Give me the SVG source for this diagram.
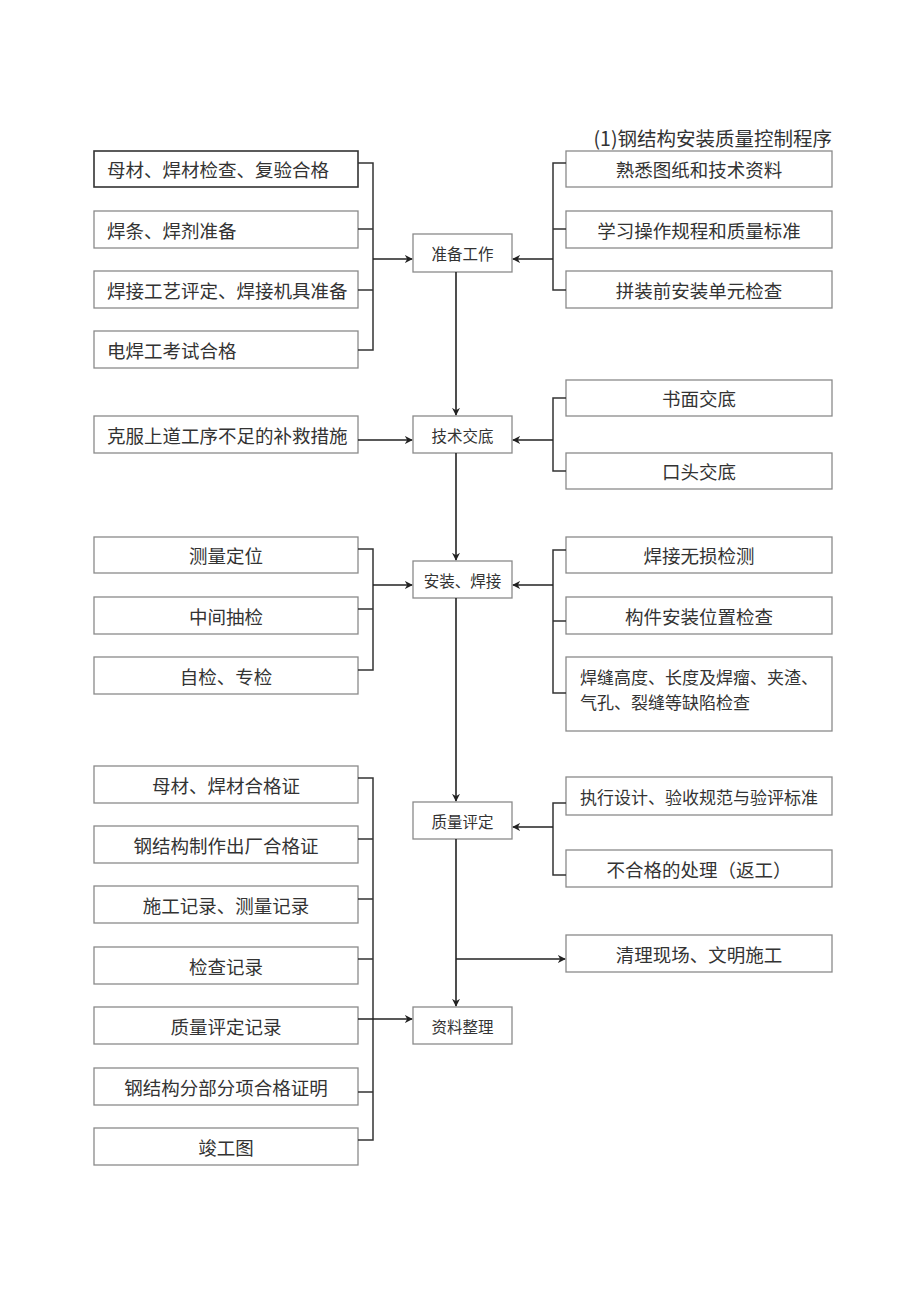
<svg xmlns="http://www.w3.org/2000/svg" width="920" height="1301" viewBox="0 0 920 1301">
<style>
.b{fill:#fff;stroke:#8a8a8a;stroke-width:1.3}
.b1{fill:#fff;stroke:#333;stroke-width:1.6}
.t{font-family:"Noto Sans CJK SC","Noto Sans CJK TC",sans-serif;font-size:18.5px;fill:#333;dominant-baseline:central}
.c{text-anchor:middle}
.m{font-size:15.5px}
.s{font-size:17px}
.ln{fill:none;stroke:#333;stroke-width:1.5}
.ar{fill:none;stroke:#222;stroke-width:1.6;marker-end:url(#ah)}
</style>
<defs>
<marker id="ah" viewBox="0 0 10 10" refX="9" refY="5" markerWidth="8" markerHeight="8" markerUnits="userSpaceOnUse" orient="auto">
<path d="M0,0 L10,5 L0,10 L3,5 Z" fill="#222"/>
</marker>
</defs>
<rect width="920" height="1301" fill="#fff"/>
<text x="832" y="137" class="t" style="font-size:19.5px;text-anchor:end">(1)钢结构安装质量控制程序</text>

<g id="n_prep"><rect class="b" x="413" y="234" width="99" height="38"/><text class="t c m" x="462.5" y="253">准备工作</text></g>
<g id="n_tech"><rect class="b" x="413" y="416" width="99" height="37"/><text class="t c m" x="462.5" y="434.5">技术交底</text></g>
<g id="n_inst"><rect class="b" x="413" y="561" width="99" height="37"/><text class="t c m" x="462.5" y="579.5">安装、焊接</text></g>
<g id="n_eval"><rect class="b" x="413" y="802" width="99" height="37"/><text class="t c m" x="462.5" y="820.5">质量评定</text></g>
<g id="n_doc"><rect class="b" x="413" y="1007" width="99" height="37"/><text class="t c m" x="462.5" y="1025.5">资料整理</text></g>

<g id="l1"><rect class="b1" x="94" y="151" width="264" height="36"/><text class="t" x="107" y="169">母材、焊材检查、复验合格</text></g>
<g id="l2"><rect class="b" x="94" y="211" width="264" height="37"/><text class="t" x="107" y="229.5">焊条、焊剂准备</text></g>
<g id="l3"><rect class="b" x="94" y="271" width="264" height="37"/><text class="t" x="107" y="289.5">焊接工艺评定、焊接机具准备</text></g>
<g id="l4"><rect class="b" x="94" y="331" width="264" height="37"/><text class="t" x="107" y="349.5">电焊工考试合格</text></g>

<g id="r1"><rect class="b" x="566" y="151" width="266" height="36"/><text class="t c" x="699" y="169">熟悉图纸和技术资料</text></g>
<g id="r2"><rect class="b" x="566" y="211" width="266" height="37"/><text class="t c" x="699" y="229.5">学习操作规程和质量标准</text></g>
<g id="r3"><rect class="b" x="566" y="271" width="266" height="37"/><text class="t c" x="699" y="289.5">拼装前安装单元检查</text></g>

<g id="l5"><rect class="b" x="94" y="416" width="264" height="37"/><text class="t" x="107" y="434.5">克服上道工序不足的补救措施</text></g>
<g id="r4"><rect class="b" x="566" y="380" width="266" height="36"/><text class="t c" x="699" y="398">书面交底</text></g>
<g id="r5"><rect class="b" x="566" y="453" width="266" height="36"/><text class="t c" x="699" y="471">口头交底</text></g>

<g id="l6"><rect class="b" x="94" y="537" width="264" height="36"/><text class="t c" x="226" y="555">测量定位</text></g>
<g id="l7"><rect class="b" x="94" y="597" width="264" height="37"/><text class="t c" x="226" y="615.5">中间抽检</text></g>
<g id="l8"><rect class="b" x="94" y="657" width="264" height="37"/><text class="t c" x="226" y="675.5">自检、专检</text></g>

<g id="r6"><rect class="b" x="566" y="537" width="266" height="36"/><text class="t c" x="699" y="555">焊接无损检测</text></g>
<g id="r7"><rect class="b" x="566" y="597" width="266" height="37"/><text class="t c" x="699" y="615.5">构件安装位置检查</text></g>
<g id="r8"><rect class="b" x="566" y="657" width="266" height="74"/><text class="t s" x="580" y="676">焊缝高度、长度及焊瘤、夹渣、</text><text class="t s" x="580" y="701">气孔、裂缝等缺陷检查</text></g>

<g id="r9"><rect class="b" x="566" y="777" width="266" height="38"/><text class="t c s" x="699" y="796">执行设计、验收规范与验评标准</text></g>
<g id="r10"><rect class="b" x="566" y="850" width="266" height="37"/><text class="t c" x="699" y="868.5">不合格的处理（返工）</text></g>
<g id="r11"><rect class="b" x="566" y="935" width="266" height="37"/><text class="t c" x="699" y="953.5">清理现场、文明施工</text></g>

<g id="l9"><rect class="b" x="94" y="766" width="264" height="37"/><text class="t c" x="226" y="784.5">母材、焊材合格证</text></g>
<g id="l10"><rect class="b" x="94" y="826" width="264" height="37"/><text class="t c" x="226" y="844.5">钢结构制作出厂合格证</text></g>
<g id="l11"><rect class="b" x="94" y="886" width="264" height="37"/><text class="t c" x="226" y="904.5">施工记录、测量记录</text></g>
<g id="l12"><rect class="b" x="94" y="947" width="264" height="37"/><text class="t c" x="226" y="965.5">检查记录</text></g>
<g id="l13"><rect class="b" x="94" y="1007" width="264" height="37"/><text class="t c" x="226" y="1025.5">质量评定记录</text></g>
<g id="l14"><rect class="b" x="94" y="1068" width="264" height="37"/><text class="t c" x="226" y="1086.5">钢结构分部分项合格证明</text></g>
<g id="l15"><rect class="b" x="94" y="1128" width="264" height="37"/><text class="t c" x="226" y="1146.5">竣工图</text></g>

<g id="connectors">
<path class="ln" d="M358,163 H373 V350 H358 M358,229 H373 M358,290 H373"/>
<path class="ar" d="M373,259 H412"/>
<path class="ln" d="M566,163 H553 V290 H566 M566,229 H553"/>
<path class="ar" d="M553,259 H513"/>
<path class="ar" d="M456,272 V415"/>
<path class="ar" d="M358,440 H412"/>
<path class="ln" d="M566,398 H553 V471 H566"/>
<path class="ar" d="M553,440 H513"/>
<path class="ar" d="M456,453 V560"/>
<path class="ln" d="M358,549 H373 V670 H358 M358,609 H373"/>
<path class="ar" d="M373,585 H412"/>
<path class="ln" d="M566,550 H553 V693 H566 M566,621 H553"/>
<path class="ar" d="M553,585 H513"/>
<path class="ar" d="M456,598 V801"/>
<path class="ln" d="M566,803 H553 V875 H566"/>
<path class="ar" d="M553,827 H513"/>
<path class="ar" d="M456,839 V1006"/>
<path class="ar" d="M456,959 H565"/>
<path class="ln" d="M358,778 H373 V1140 H358 M358,839 H373 M358,899 H373 M358,959 H373 M358,1092 H373"/>
<path class="ar" d="M358,1019 H412"/>
</g>
</svg>
